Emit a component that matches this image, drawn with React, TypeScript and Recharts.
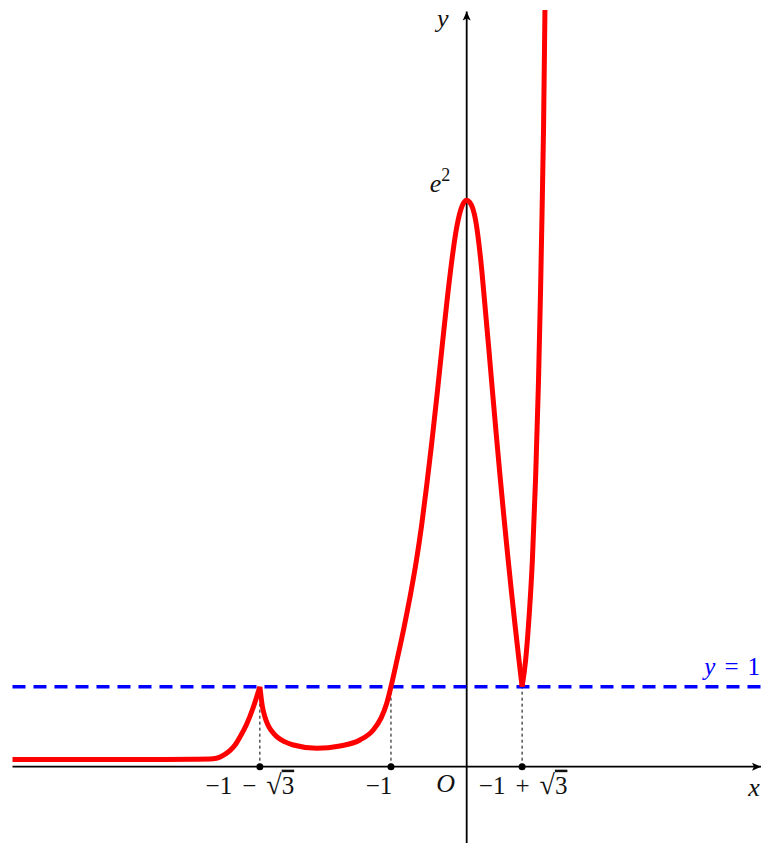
import { Line, LineChart, ReferenceDot, ReferenceLine, XAxis, YAxis } from "recharts";

// curve, split at the two cusps
const leftBranch = [
  { x: -6, y: 0.09 },
  { x: -5, y: 0.09 },
  { x: -4, y: 0.091 },
  { x: -3.6, y: 0.094 },
  { x: -3.35, y: 0.1 },
  { x: -3.26, y: 0.12 },
  { x: -3.2, y: 0.15 },
  { x: -3.128, y: 0.2 },
  { x: -3.06, y: 0.27 },
  { x: -2.995, y: 0.37 },
  { x: -2.907, y: 0.53 },
  { x: -2.82, y: 0.74 },
  { x: -2.732, y: 1.0 },
];

const middleBranch = [
  { x: -2.732, y: 1.0 },
  { x: -2.7, y: 0.76 },
  { x: -2.668, y: 0.63 },
  { x: -2.63, y: 0.53 },
  { x: -2.58, y: 0.45 },
  { x: -2.51, y: 0.375 },
  { x: -2.4, y: 0.31 },
  { x: -2.29, y: 0.271 },
  { x: -1.98, y: 0.23 },
  { x: -1.674, y: 0.259 },
  { x: -1.41, y: 0.334 },
  { x: -1.234, y: 0.459 },
  { x: -1.13, y: 0.61 },
  { x: -1.057, y: 0.79 },
  { x: -1.0, y: 1.0 },
  { x: -0.92, y: 1.336 },
  { x: -0.83, y: 1.732 },
  { x: -0.745, y: 2.14 },
  { x: -0.665, y: 2.572 },
  { x: -0.595, y: 3.02 },
  { x: -0.528, y: 3.516 },
  { x: -0.46, y: 4.06 },
  { x: -0.39, y: 4.662 },
  { x: -0.32, y: 5.292 },
  { x: -0.26, y: 5.82 },
  { x: -0.2, y: 6.3 },
  { x: -0.14, y: 6.698 },
  { x: -0.08, y: 6.955 },
  { x: -0.03, y: 7.062 },
  { x: 0, y: 7.08 },
  { x: 0.04, y: 7.055 },
  { x: 0.08, y: 6.98 },
  { x: 0.12, y: 6.82 },
  { x: 0.16, y: 6.55 },
  { x: 0.2, y: 6.2 },
  { x: 0.24, y: 5.78 },
  { x: 0.29, y: 5.25 },
  { x: 0.34, y: 4.7 },
  { x: 0.39, y: 4.16 },
  { x: 0.44, y: 3.64 },
  { x: 0.49, y: 3.14 },
  { x: 0.54, y: 2.66 },
  { x: 0.59, y: 2.2 },
  { x: 0.64, y: 1.76 },
  { x: 0.69, y: 1.34 },
  { x: 0.732, y: 1.0 },
];

const rightBranch = [
  { x: 0.732, y: 1.0 },
  { x: 0.779, y: 1.334 },
  { x: 0.815, y: 1.75 },
  { x: 0.868, y: 2.584 },
  { x: 0.911, y: 3.625 },
  { x: 0.948, y: 4.793 },
  { x: 0.976, y: 5.959 },
  { x: 0.986, y: 6.459 },
  { x: 1.015, y: 7.96 },
  { x: 1.034, y: 9.46 },
];

const asymptote = [
  { x: -6, y: 1 },
  { x: 3.888, y: 1 },
];

const tickXs = [-2.732, -1, 0.732];
const tickLabels = ["−1 − √3", "−1", "−1 + √3"];
const tickDx = [-10, -12, 1];

const xRange = [-6, 3.888];
const yRange = [-0.954, 9.44];

const font = "'Liberation Serif', 'DejaVu Serif', serif";

// one math token: plain text, or a square root with an overlined radicand
function Token({ text, gap }: { text: string; gap: number }) {
  if (text.startsWith("√")) {
    return (
      <>
        <tspan dx={gap} fontSize={28}>√</tspan>
        <tspan style={{ textDecoration: "overline" }}>{text.slice(1)}</tspan>
      </>
    );
  }
  return <tspan dx={gap}>{text}</tspan>;
}

function MathText({ text, gap }: { text: string; gap: number }) {
  return (
    <>
      {text.split(" ").map((t, i) => (
        <Token key={i} text={t} gap={i === 0 ? 0 : gap} />
      ))}
    </>
  );
}

function AxisArrow(props: any) {
  const { x1, y1, x2, y2 } = props;
  const horizontal = Math.abs(y2 - y1) < Math.abs(x2 - x1);
  const head = horizontal
    ? `${x2},${y2} ${x2 - 9},${y2 - 4} ${x2 - 7},${y2} ${x2 - 9},${y2 + 4}`
    : `${x2},${y2} ${x2 - 4},${y2 + 9} ${x2},${y2 + 7} ${x2 + 4},${y2 + 9}`;
  return (
    <g>
      <line x1={x1} y1={y1} x2={x2} y2={y2} stroke="#000" strokeWidth={1.8} />
      <polygon points={head} fill="#000" />
    </g>
  );
}

export default function App() {
  return (
    <div style={{ position: "absolute", left: 0, top: 0, background: "#fff" }}>
      <LineChart width={761} height={843} margin={{ top: 0, right: 0, bottom: 0, left: 0 }}>
        <XAxis type="number" dataKey="x" domain={[-6.165, 3.888]} allowDataOverflow hide />
        <YAxis type="number" dataKey="y" domain={[-0.954, 9.584]} allowDataOverflow hide width={0} />

        <ReferenceLine
          segment={[{ x: xRange[0], y: 0 }, { x: xRange[1], y: 0 }]}
          ifOverflow="visible"
          shape={AxisArrow}
        />
        <ReferenceLine
          segment={[{ x: 0, y: yRange[0] }, { x: 0, y: yRange[1] }]}
          ifOverflow="visible"
          shape={AxisArrow}
        />

        {tickXs.map((x) => (
          <ReferenceLine
            key={`v${x}`}
            segment={[{ x, y: 0 }, { x, y: 1 }]}
            stroke="#000"
            strokeWidth={1}
            strokeDasharray="3 3"
            ifOverflow="visible"
          />
        ))}

        <Line
          data={asymptote}
          dataKey="y"
          type="linear"
          stroke="#0000ff"
          strokeWidth={3.5}
          strokeDasharray="13 8"
          dot={false}
          activeDot={false}
          isAnimationActive={false}
        />
        {[leftBranch, middleBranch, rightBranch].map((seg, i) => (
          <Line
            key={i}
            data={seg}
            dataKey="y"
            type="monotone"
            stroke="#ff0000"
            strokeWidth={5}
            dot={false}
            activeDot={false}
            isAnimationActive={false}
          />
        ))}

        {tickXs.map((x) => (
          <ReferenceDot key={`d${x}`} x={x} y={0} r={3.5} fill="#000" stroke="none" ifOverflow="visible" />
        ))}

        {tickXs.map((x, i) => (
          <ReferenceDot
            key={`l${x}`}
            x={x}
            y={0}
            r={0}
            ifOverflow="visible"
            shape={(p: any) => (
              <text
                x={p.cx + tickDx[i]}
                y={p.cy + 27}
                textAnchor="middle"
                fontFamily={font}
                fontSize={25}
                fill="#111"
              >
                <MathText text={tickLabels[i]} gap={10} />
              </text>
            )}
          />
        ))}

        <ReferenceDot
          x={0}
          y={0}
          r={0}
          ifOverflow="visible"
          shape={(p: any) => (
            <text x={p.cx - 21} y={p.cy + 25} textAnchor="middle" fontFamily={font} fontSize={26} fontStyle="italic" fill="#111">
              O
            </text>
          )}
        />
        <ReferenceDot
          x={xRange[1]}
          y={0}
          r={0}
          ifOverflow="visible"
          shape={(p: any) => (
            <text x={p.cx - 7} y={p.cy + 29} textAnchor="middle" fontFamily={font} fontSize={26} fontStyle="italic" fill="#111">
              x
            </text>
          )}
        />
        <ReferenceDot
          x={0}
          y={yRange[1]}
          r={0}
          ifOverflow="visible"
          shape={(p: any) => (
            <text x={p.cx - 24} y={p.cy + 15} textAnchor="middle" fontFamily={font} fontSize={26} fontStyle="italic" fill="#111">
              y
            </text>
          )}
        />
        <ReferenceDot
          x={0}
          y={7.08}
          r={0}
          ifOverflow="visible"
          shape={(p: any) => (
            <text x={p.cx - 37} y={p.cy - 8} fontFamily={font} fontSize={26} fill="#111">
              <tspan fontStyle="italic">e</tspan>
              <tspan fontSize={18} dy={-11}>2</tspan>
            </text>
          )}
        />
        <ReferenceDot
          x={xRange[1]}
          y={1}
          r={0}
          ifOverflow="visible"
          shape={(p: any) => (
            <text x={p.cx - 1} y={p.cy - 12} textAnchor="end" fontFamily={font} fontSize={25} fill="#0000ff">
              <tspan fontStyle="italic">y</tspan>
              <tspan dx={9}>=</tspan>
              <tspan dx={9}>1</tspan>
            </text>
          )}
        />
      </LineChart>
    </div>
  );
}
